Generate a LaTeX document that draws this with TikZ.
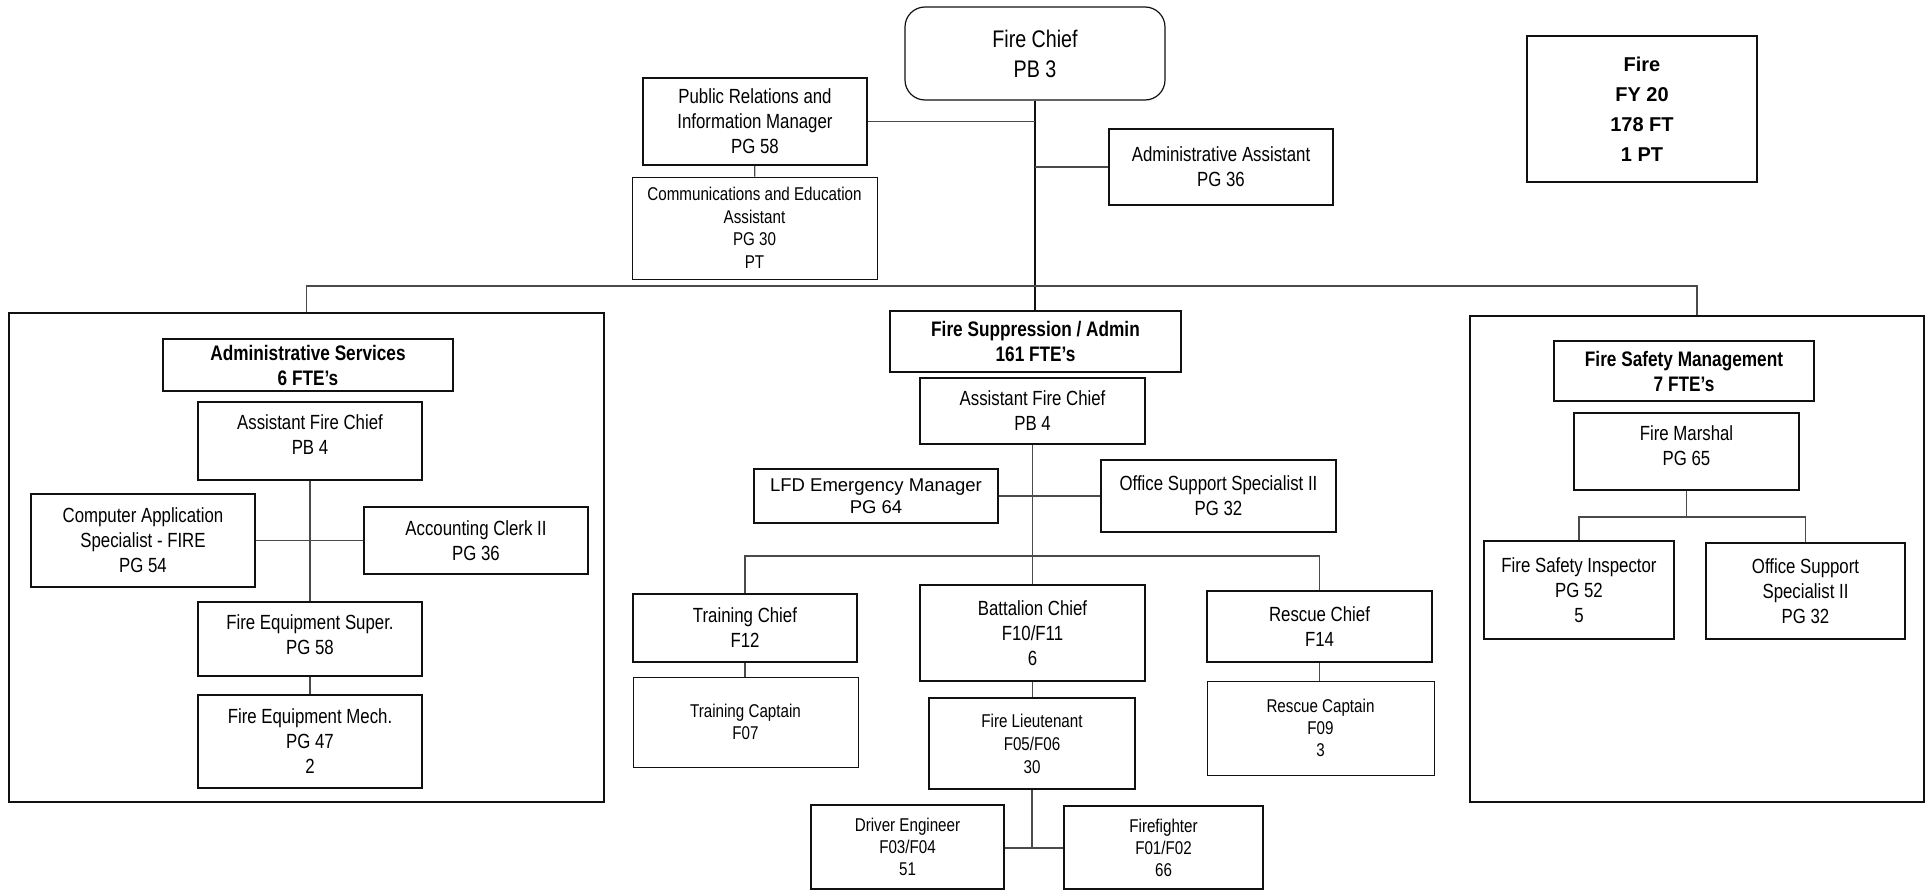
\documentclass[tikz,border=0pt]{standalone}
\usepackage{fontspec}
\setmainfont{Liberation Sans}[FakeStretch=0.82]
\newfontfamily\widesans{Liberation Sans}
\usetikzlibrary{positioning,calc}
\definecolor{cInk}{HTML}{111111}
\definecolor{cLine}{HTML}{4A4A4A}

\begin{document}
\begin{tikzpicture}[x=1pt,y=-1pt,
      box/.style={draw=cInk,line width=2.2pt,inner sep=2pt,align=center,
                  font=\fontsize{20.5}{25}\selectfont},
      sbox/.style={box,font=\fontsize{18.5}{22}\selectfont},
      thin/.style={line width=0.9pt},
      hdr/.style={box,font=\bfseries\fontsize{21}{25}\selectfont},
      grp/.style={draw=cInk,line width=2pt},
      lift/.style={text depth=#1},
      link/.style={draw=cLine,line width=1.1pt},
      trunk/.style={draw=cInk,line width=1.5pt}]
    \path[fill=white,use as bounding box] (0,0) rectangle (1931,891);
    % top of the chart
    \node[draw=cInk,line width=1.2pt,rounded corners=20pt,align=center,
          minimum width=260,minimum height=93,font=\fontsize{24}{30}\selectfont]
          (chief) at (1035,53.5) {Fire Chief\\ PB 3};
    \node[box,minimum width=224,minimum height=87] (pr) at (755,121.5)
      {Public Relations and\\ Information Manager\\ PG 58};
    \node[box,thin,minimum width=245,minimum height=102,font=\fontsize{18.5}{22.5}\selectfont]
      (comms) at (754.5,228) {Communications and Education\\ Assistant\\ PG 30\\ PT};
    \node[box,minimum width=224,minimum height=76] (aa) at (1221,167)
      {Administrative Assistant\\ PG 36};
    \node[box,minimum width=230,minimum height=146,font=\widesans\bfseries\fontsize{20}{30}\selectfont]
      (total) at (1642,109) {Fire\\ FY 20\\ 178 FT\\ 1 PT};
    \coordinate (bus) at (1035,286);
    % administrative services
    \node[grp,minimum width=595,minimum height=489] (admgrp) at (306.5,557.5) {};
    \node[hdr,minimum width=290,minimum height=52] (admhdr) at (308,365)
      {Administrative Services\\ 6 FTE’s};
    \node[box,lift=13,minimum width=224,minimum height=78] (admafc) at (310,441)
      {Assistant Fire Chief\\ PB 4};
    \node[box,minimum width=224,minimum height=93] (cas) at (143,540.5)
      {Computer Application\\ Specialist - FIRE\\ PG 54};
    \node[box,minimum width=224,minimum height=67] (acct) at (476,540.5)
      {Accounting Clerk II\\ PG 36};
    \node[box,lift=9,minimum width=224,minimum height=74] (fes) at (310,639)
      {Fire Equipment Super.\\ PG 58};
    \node[box,minimum width=224,minimum height=93] (fem) at (310,741.5)
      {Fire Equipment Mech.\\ PG 47\\ 2};
    \draw[link] (admafc) -- (fes);
    \draw[link] (cas) -- (acct);
    \draw[link] (fes) -- (fem);
    % fire suppression
    \node[hdr,minimum width=291,minimum height=61] (supphdr) at (1035.5,341.5)
      {Fire Suppression / Admin\\ 161 FTE’s};
    \node[box,minimum width=225,minimum height=66] (supafc) at (1032.5,411)
      {Assistant Fire Chief\\ PB 4};
    \node[box,minimum width=244,minimum height=54,font=\widesans\fontsize{18.5}{22}\selectfont]
      (lfd) at (876,496) {LFD Emergency Manager\\ PG 64};
    \node[box,minimum width=235,minimum height=72] (oss) at (1218.5,496)
      {Office Support Specialist II\\ PG 32};
    \node[box,minimum width=224,minimum height=68] (trainchief) at (745,628)
      {Training Chief\\ F12};
    \node[sbox,thin,minimum width=225,minimum height=90] (traincapt) at (745.5,722)
      {Training Captain\\ F07};
    \node[box,minimum width=225,minimum height=96] (batt) at (1032.5,633)
      {Battalion Chief\\ F10/F11\\ 6};
    \node[sbox,font=\fontsize{18.5}{23}\selectfont,minimum width=206,minimum height=91]
      (lt) at (1032,743.5) {Fire Lieutenant\\ F05/F06\\ 30};
    \node[box,minimum width=225,minimum height=71] (rescchief) at (1319.5,626.5)
      {Rescue Chief\\ F14};
    \node[sbox,thin,minimum width=227,minimum height=94] (resccapt) at (1320.5,728)
      {Rescue Captain\\ F09\\ 3};
    \node[sbox,minimum width=193,minimum height=84] (driver) at (907.5,847)
      {Driver Engineer\\ F03/F04\\ 51};
    \node[sbox,minimum width=199,minimum height=83] (ff) at (1163.5,847.5)
      {Firefighter\\ F01/F02\\ 66};
    \coordinate (sbus) at (1032.5,556);
    \coordinate (crew) at (1032,848);
    \draw[link] (supafc.south) -- (supafc.south |- batt.north);
    \draw[link] (lfd) -- (oss);
    \draw[link] (trainchief.north) |- (sbus) -| (rescchief.north);
    \draw[link] (trainchief.south) -- (trainchief.south |- traincapt.north);
    \draw[link] (rescchief.south) -- (rescchief.south |- resccapt.north);
    \draw[link] (batt.south) -- (batt.south |- lt.north);
    \draw[link] (lt) -- (crew);
    \draw[link] (driver.east |- crew) -- (ff.west |- crew);
    % fire safety management
    \node[grp,minimum width=454,minimum height=486] (safgrp) at (1697,559) {};
    \node[hdr,minimum width=260,minimum height=60] (safhdr) at (1684,371)
      {Fire Safety Management\\ 7 FTE’s};
    \node[box,lift=12,minimum width=225,minimum height=77] (marshal) at (1686.5,451.5)
      {Fire Marshal\\ PG 65};
    \node[box,minimum width=190,minimum height=98] (fsi) at (1579,590)
      {Fire Safety Inspector\\ PG 52\\ 5};
    \node[box,minimum width=199,minimum height=96] (oss2) at (1805.5,591)
      {Office Support\\ Specialist II\\ PG 32};
    \coordinate (fbus) at (1686.5,517);
    \draw[link] (marshal) -- (fbus);
    \draw[link] (fsi.north) |- (fbus) -| (oss2.north);
    % links from the chief
    \draw[trunk] (chief.south) -- (chief.south |- supphdr.north);
    \draw[link] (pr) -- (pr -| chief);
    \draw[link] (aa) -- (aa -| chief);
    \draw[link] (pr) -- (comms);
    \draw[link] (admgrp.north) |- (bus) -| (safgrp.north);
  \end{tikzpicture}
\end{document}
